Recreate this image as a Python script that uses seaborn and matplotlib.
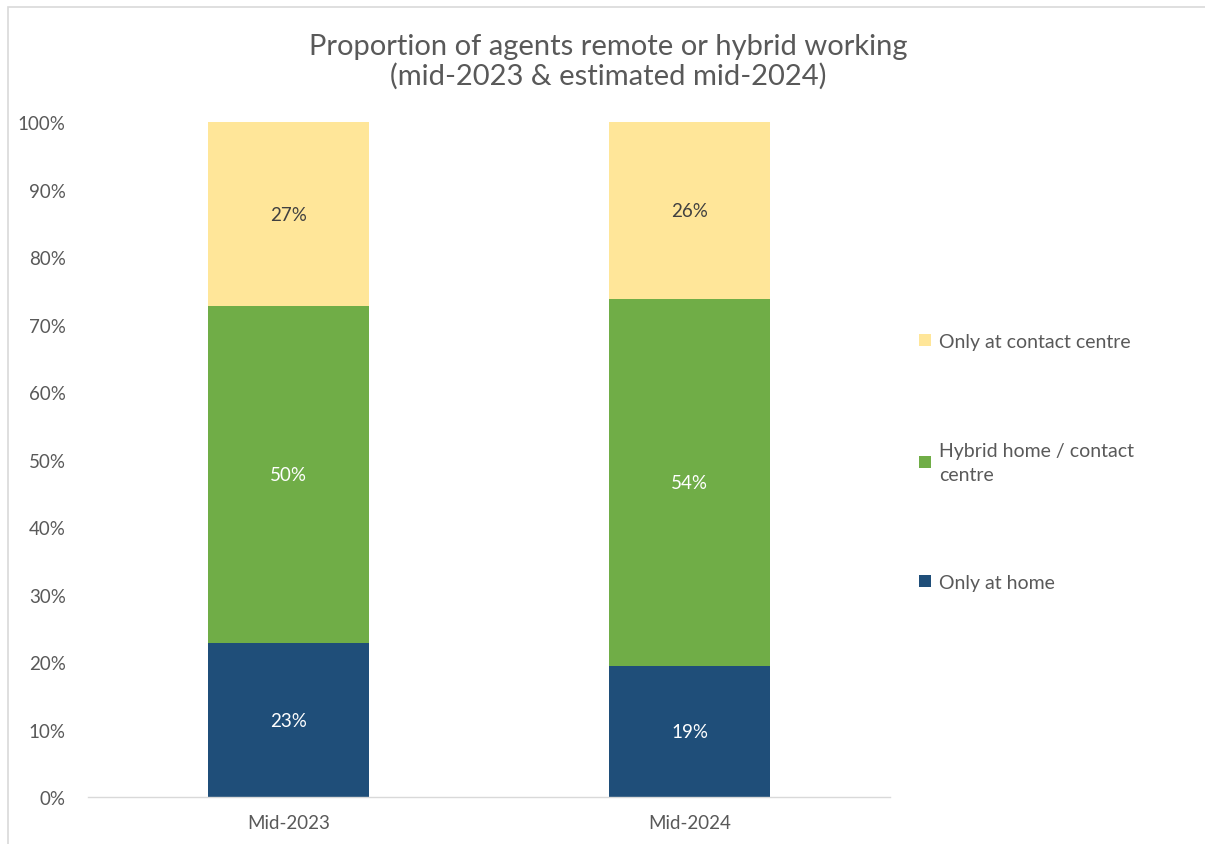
import matplotlib.pyplot as plt
from matplotlib.patches import Patch, Rectangle
import numpy as np
import pandas as pd
import seaborn as sns

# data (fractions of agents)
periods = ['Mid-2023', 'Mid-2024']
only_home = [0.228, 0.194]
hybrid = [0.499, 0.544]
only_centre = [0.273, 0.262]

series_names = ['Only at home', 'Hybrid home / contact\ncentre', 'Only at contact centre']
colours = ['#1F4E79', '#70AD47', '#FFE699']
label_colours = ['white', 'white', '#404040']

df = pd.DataFrame({'period': periods, 'home': only_home, 'hybrid': hybrid, 'centre': only_centre})
df['cum_home'] = df.home
df['cum_hybrid'] = df.home + df.hybrid
df['cum_centre'] = df.home + df.hybrid + df.centre

sns.set_theme(style='white')
plt.rcParams['font.family'] = ['Lato', 'DejaVu Sans']
grey = '#595959'

fig = plt.figure(figsize=(12.05, 8.45), dpi=100)
ax = fig.add_axes([0.073, 0.0556, 0.6656, 0.7988])

# stacked bars drawn as overlapping cumulative totals, tallest first
for col, c in zip(['cum_centre', 'cum_hybrid', 'cum_home'], colours[::-1]):
    sns.barplot(data=df, x='period', y=col, color=c, width=0.4, saturation=1,
                linewidth=0, ax=ax)

# segment labels
for i in range(len(periods)):
    bottom = 0
    for vals, lc in zip([only_home, hybrid, only_centre], label_colours):
        v = vals[i]
        ax.text(i, bottom + v / 2, f'{v * 100:.0f}%', ha='center', va='center',
                color=lc, fontsize=13.5)
        bottom += v

ax.set_xlim(-0.5, 1.5)
ax.set_ylim(0, 1)
ax.set_yticks(np.arange(0, 1.01, 0.1))
ax.set_yticklabels([f'{t}%' for t in range(0, 101, 10)])
ax.set_xlabel('')
ax.set_ylabel('')
ax.tick_params(axis='both', colors=grey, labelsize=13.5, length=0)
ax.tick_params(axis='x', pad=12)
ax.tick_params(axis='y', pad=16)
sns.despine(ax=ax, left=True)
ax.spines['bottom'].set_color('#D9D9D9')
ax.spines['bottom'].set_linewidth(1)

fig.suptitle('Proportion of agents remote or hybrid working\n(mid-2023 & estimated mid-2024)',
             x=0.505, y=0.96, fontsize=21, color=grey, linespacing=1.15)

handles = [Patch(facecolor=c, edgecolor='none') for c in colours[::-1]]
leg = fig.legend(handles, series_names[::-1], loc='center left', bbox_to_anchor=(0.748, 0.452),
                 frameon=False, fontsize=14, labelcolor=grey, handlelength=0.6, handleheight=0.6,
                 handletextpad=0.45, labelspacing=4.7)
for t in leg.get_texts():
    t.set_linespacing(1.5)

# light chart-area frame (top and left edges visible)
fig.patches.append(Rectangle((8 / 1205, -0.1), 1.2, 1 - 8 / 845 + 0.1, transform=fig.transFigure,
                             fill=False, edgecolor='#D9D9D9', linewidth=1.2))

fig.savefig('out.png', dpi=100)
